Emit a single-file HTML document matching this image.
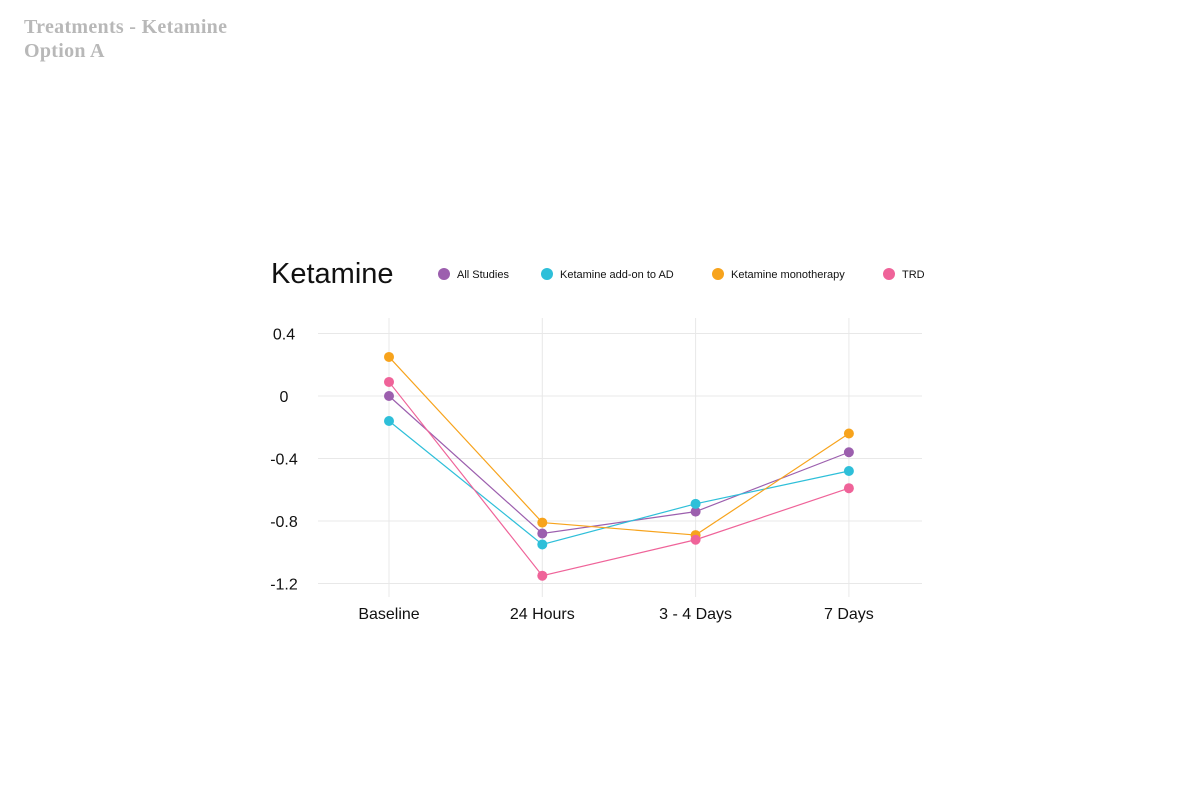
<!DOCTYPE html>
<html><head><meta charset="utf-8"><style>
body{margin:0;width:1200px;height:800px;background:#fff;overflow:hidden;font-family:"Liberation Sans",sans-serif}
.hdr{position:absolute;left:24px;top:15px;font-family:"Liberation Serif",serif;font-weight:bold;color:#b8b8b8;font-size:20px;line-height:24px;letter-spacing:0.3px}
</style></head><body>
<div class="hdr"><div>Treatments - Ketamine</div><div>Option A</div></div>
<svg id="chart" width="1200" height="800" style="position:absolute;left:0;top:0"></svg>
<script>
const categories=["Baseline","24 Hours","3 - 4 Days","7 Days"];
const yTicks=[0.4,0,-0.4,-0.8,-1.2];
const yTickLabels=["0.4","0","-0.4","-0.8","-1.2"];
const seriesNames=["All Studies","Ketamine add-on to AD","Ketamine monotherapy","TRD"];
const allStudies=[0.0,-0.88,-0.74,-0.36];
const addOn=[-0.16,-0.95,-0.69,-0.48];
const mono=[0.25,-0.81,-0.89,-0.24];
const trd=[0.09,-1.15,-0.92,-0.59];
const colors=["#9c5fae","#2ebfd9","#f7a31c","#ef6399"];
const series=[allStudies,addOn,mono,trd];
const NS="http://www.w3.org/2000/svg";
const svg=document.getElementById("chart");
function x(i){return 389+i*153.3;}
function y(v){return 396-v*156.25;}
function mk(t,a,p){const e=document.createElementNS(NS,t);for(const k in a)e.setAttribute(k,a[k]);(p||svg).appendChild(e);return e;}
const title=mk("text",{x:271,y:283,"font-size":29,fill:"#111"});title.textContent="Ketamine";


yTicks.forEach((t,i)=>{
 const l=mk("line",{x1:318,x2:922,y1:y(t),y2:y(t),stroke:"#e8e8e8","stroke-width":1});
 
 
 const tx=mk("text",{x:284,y:y(t)+6,"font-size":16,fill:"#111","text-anchor":"middle"});tx.textContent=yTickLabels[i];
 
 
});
categories.forEach((c,i)=>{
 const l=mk("line",{x1:x(i),x2:x(i),y1:318,y2:597,stroke:"#e8e8e8","stroke-width":1});
 
 
 const tx=mk("text",{x:x(i),y:619,"font-size":16,fill:"#111","text-anchor":"middle"});tx.textContent=c;
 
 
});
series.forEach((s,k)=>{
 const g=mk("g",{});
 
 
 const p=mk("polyline",{points:s.map((v,i)=>x(i)+","+y(v)).join(" "),fill:"none",stroke:colors[k],"stroke-width":1.2},g);
 
 
 s.forEach((v,i)=>{const c=mk("circle",{cx:x(i),cy:y(v),r:5,fill:colors[k]},g);
 
 });
});
const legX=[444,547,718,889];
seriesNames.forEach((n,k)=>{
 const g=mk("g",{});
 
 
 mk("circle",{cx:legX[k],cy:274,r:6,fill:colors[k]},g);
 const t=mk("text",{x:legX[k]+13,y:278,"font-size":11,fill:"#111"},g);t.textContent=n;
});
</script>
</body></html>
